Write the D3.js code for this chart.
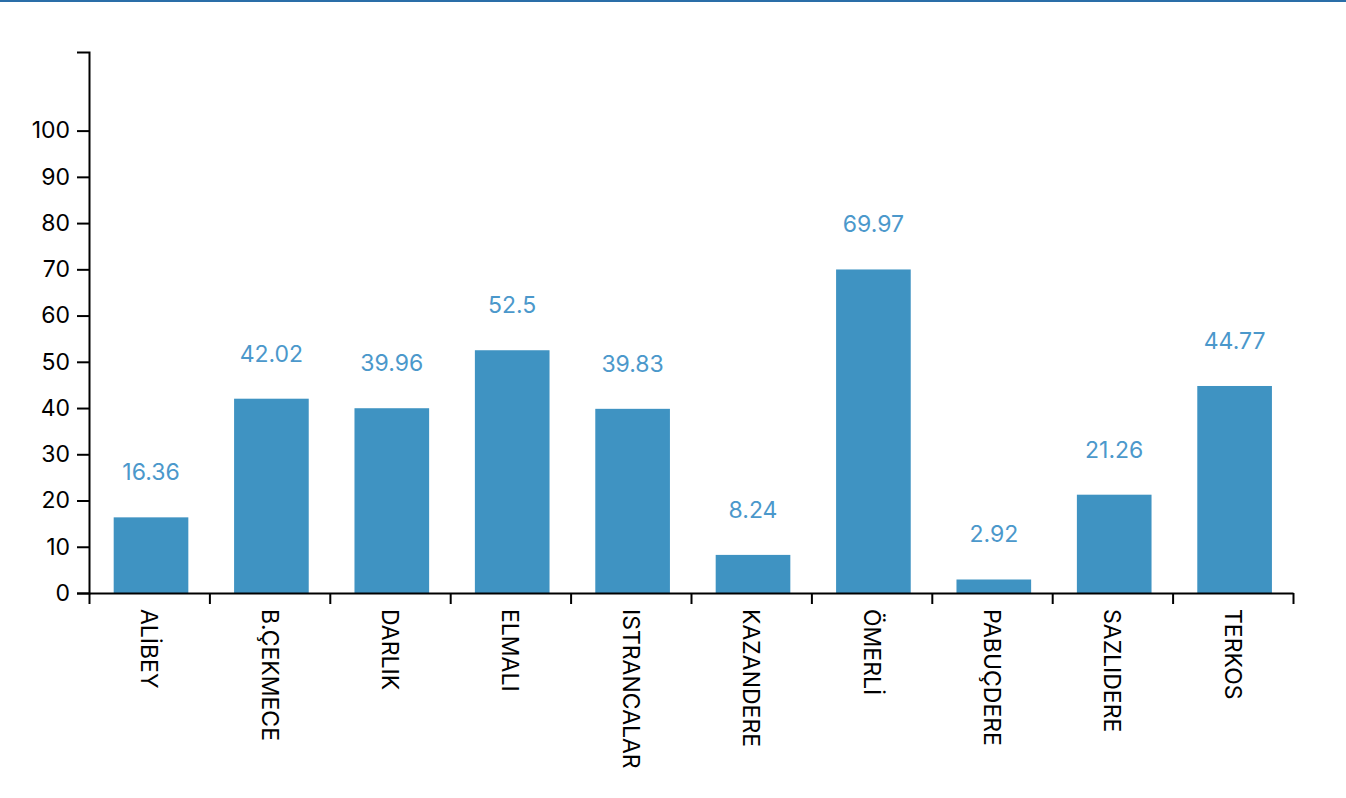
<!DOCTYPE html>
<html>
<head>
<meta charset="utf-8">
<script src="https://cdn.jsdelivr.net/npm/d3@7"></script>
<style>
  html, body { margin: 0; padding: 0; background: #fff; }
  body { width: 1346px; height: 798px; overflow: hidden; }
  .topbar { width: 100%; height: 2px; background: #2a6ea8; }
  svg text { font-family: Inter, "Liberation Sans", Arial, sans-serif; }
</style>
</head>
<body>
<div class="topbar"></div>
<div id="chart"></div>
<script>
const categories = ["ALİBEY", "B.ÇEKMECE", "DARLIK", "ELMALI", "ISTRANCALAR", "KAZANDERE", "ÖMERLİ", "PABUÇDERE", "SAZLIDERE", "TERKOS"];
const values = [16.36, 42.02, 39.96, 52.5, 39.83, 8.24, 69.97, 2.92, 21.26, 44.77];
const yTicks = [0, 10, 20, 30, 40, 50, 60, 70, 80, 90, 100];

const W = 1346, H = 796;
const margin = { left: 89, right: 53, top: 50, bottom: 205 };
const barColor = "#3f93c2";
const labelColor = "#4b98cb";
const fontSize = "23px";

const svg = d3.select("#chart").append("svg")
  .attr("width", W).attr("height", H);

const x = d3.scaleBand().domain(categories).range([margin.left, W - margin.right]).padding(0);
const y = d3.scaleLinear().domain([0, 117]).range([H - margin.bottom, margin.top]);

const bw = x.bandwidth();
const barOff = bw * 0.205, barW = bw * 0.62;

// bars
svg.append("g").selectAll("rect").data(categories).join("rect")
  .attr("x", d => x(d) + barOff)
  .attr("width", barW)
  .attr("y", (d, i) => y(values[i]))
  .attr("height", (d, i) => y(0) - y(values[i]))
  .attr("fill", barColor);

// value labels
svg.append("g").selectAll("text").data(categories).join("text")
  .attr("x", d => x(d) + barOff + barW / 2)
  .attr("y", (d, i) => y(values[i]) - 37)
  .attr("text-anchor", "middle")
  .attr("fill", labelColor)
  .style("font-size", fontSize)
  .text((d, i) => values[i]);

// y axis
const yAxis = svg.append("g")
  .attr("transform", `translate(${margin.left},0)`)
  .call(d3.axisLeft(y).tickValues(yTicks).tickSize(12).tickSizeOuter(12).tickPadding(7));
yAxis.selectAll("path, line").attr("stroke", "#000").attr("stroke-width", 2);
yAxis.selectAll("text").style("font-size", fontSize).attr("fill", "#000");

// x axis tick marks at band boundaries
const xb = d3.scaleLinear().domain([0, categories.length]).range(x.range());
const xAxisTicks = svg.append("g")
  .attr("transform", `translate(0,${y(0)})`)
  .call(d3.axisBottom(xb).ticks(categories.length).tickFormat("").tickSize(11).tickSizeOuter(0));
xAxisTicks.selectAll("path, line").attr("stroke", "#000").attr("stroke-width", 2);

// x category labels (rotated)
svg.append("g").selectAll("text").data(categories).join("text")
  .attr("transform", d => `translate(${x(d) + bw / 2},${y(0) + 16}) rotate(90)`)
  .attr("text-anchor", "start")
  .attr("dominant-baseline", "central")
  .attr("fill", "#000")
  .style("font-size", fontSize)
  .text(d => d);
</script>
</body>
</html>
